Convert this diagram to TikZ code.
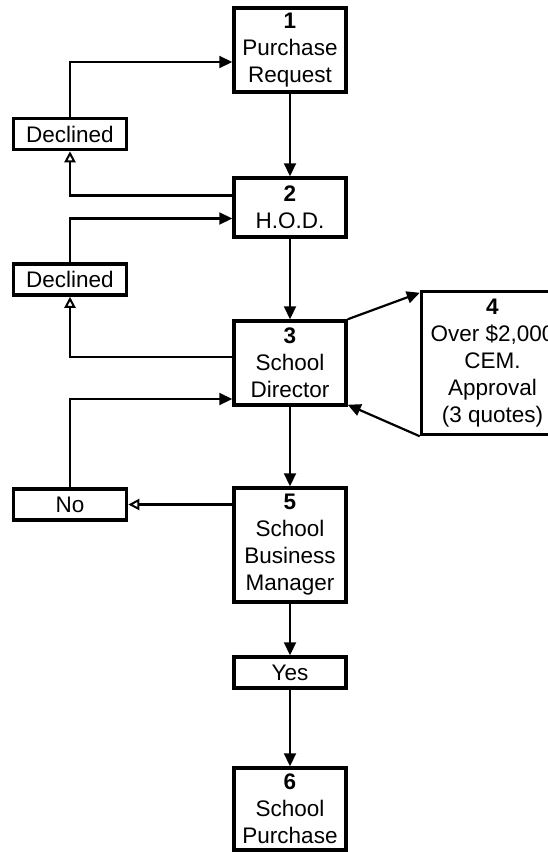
\documentclass[tikz,border=0pt]{standalone}
\usepackage{fontspec}
\setmainfont{Liberation Sans}
\usetikzlibrary{arrows.meta,positioning}

\begin{document}
\begin{tikzpicture}[x=1pt, y=1pt,
  stepbox/.style={draw, line width=3.5pt, align=center, minimum width=112pt, inner sep=0pt, font=\fontsize{22.5}{27}\selectfont},
  sidebox/.style={draw, line width=3.5pt, minimum width=113pt, minimum height=31pt, inner sep=0pt, font=\fontsize{22.5}{27}\selectfont},
  arrow/.style={-{Triangle[length=13pt,width=12pt]}, line width=2.2pt},
  back/.style={-{Triangle[open,length=11pt,width=11pt,line width=2pt]}, line width=2.2pt}
]
\useasboundingbox (0,0) rectangle (547,-852);
\node[stepbox, minimum height=84pt] (req) at (290,-50) {\textbf{1}\\Purchase\\Request};
\node[stepbox, minimum height=59pt, below=82.5pt of req] (hod) {\textbf{2}\\H.O.D.};
\node[stepbox, minimum height=84pt, below=80.5pt of hod] (dir) {\textbf{3}\\School\\Director};
\node[stepbox, minimum width=142pt, minimum height=143pt, right=72pt of dir] (cem) {\textbf{4}\\Over \$2,000\\CEM.\hspace{0.5em}\\Approval\\(3 quotes)};
\node[stepbox, minimum height=114pt, below=79.5pt of dir] (sbm) {\textbf{5}\\School\\Business\\Manager};
\node[stepbox, minimum height=31pt, below=51.5pt of sbm] (yes) {Yes};
\node[stepbox, minimum height=82pt, below=76.5pt of yes] (buy) {\textbf{6}\\School\\Purchase};
\node[sidebox] (dec1) at (70,-134) {Declined};
\node[sidebox] (dec2) at (70,-279.5) {Declined};
\node[sidebox] (no) at (70,-504.5) {No};
\draw[arrow] (req) -- (hod);
\draw[back] ([yshift=12pt]hod.west) -| (dec1.south);
\draw[arrow] (dec1.north) |- ([yshift=-12pt]req.west);
\draw[arrow] (dec2.north) |- ([yshift=-11pt]hod.west);
\draw[arrow] (hod) -- (dir);
\draw[back] ([yshift=6pt]dir.west) -| (dec2.south);
\draw[arrow] (no.north) |- ([yshift=-36pt]dir.west);
\draw[arrow] (dir.north east) -- ([yshift=-3pt]cem.north west);
\draw[arrow] (cem.south west) -- ([yshift=2pt]dir.south east);
\draw[arrow] (dir) -- (sbm);
\draw[back] (no -| sbm.west) -- (no.east);
\draw[arrow] (sbm) -- (yes);
\draw[arrow] (yes) -- (buy);
\end{tikzpicture}
\end{document}
